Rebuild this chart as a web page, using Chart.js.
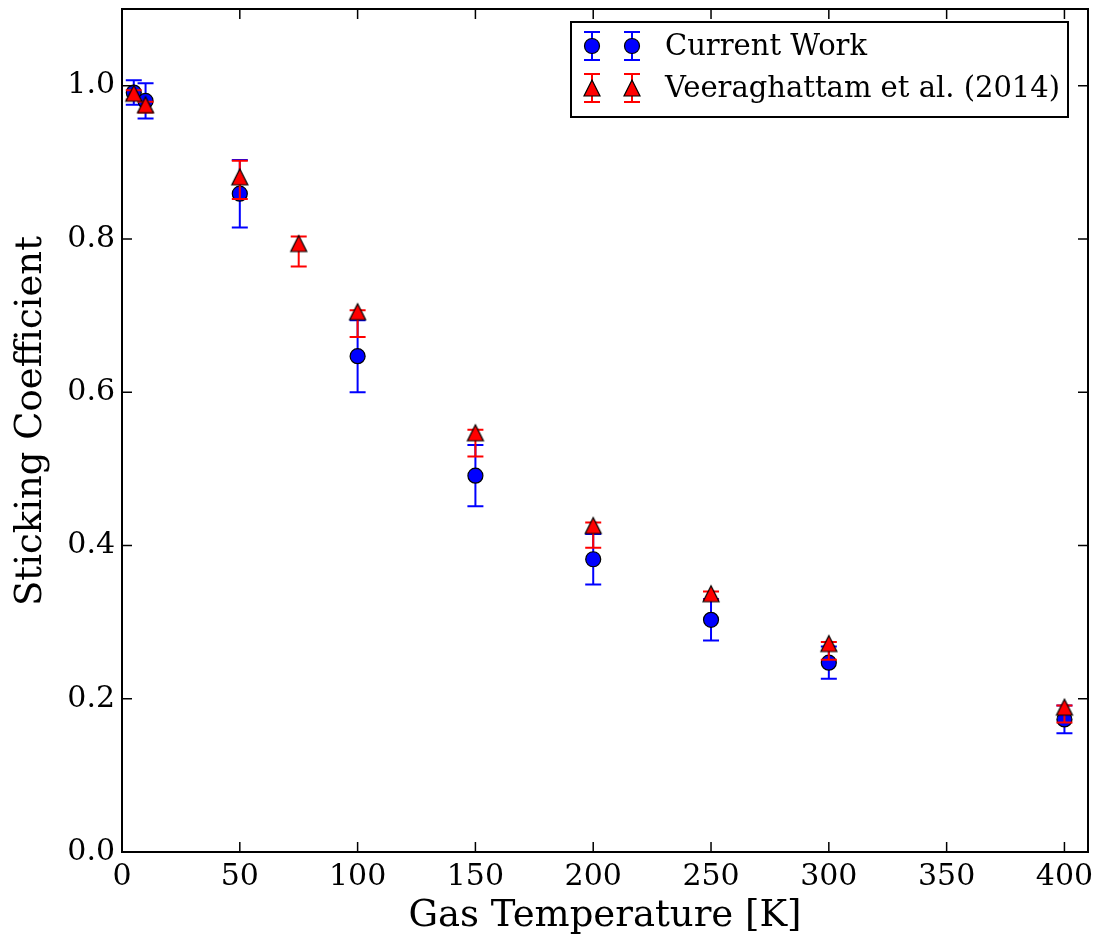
<!DOCTYPE html>
<html>
<head>
<meta charset="utf-8">
<script src="https://cdn.jsdelivr.net/npm/chart.js@4.4.0/dist/chart.umd.min.js"></script>
<style>
  body { margin: 0; background: #fff; }
</style>
</head>
<body>
<canvas id="chart" width="1102" height="943"></canvas>
<script>
// Sticking coefficient vs gas temperature, two data sets with error bars
const currentTemps = [5, 10, 50, 100, 150, 200, 250, 300, 400];
const currentValues = [0.991, 0.980, 0.859, 0.647, 0.491, 0.382, 0.303, 0.247, 0.173];
const currentErrors = [0.016, 0.023, 0.044, 0.047, 0.040, 0.033, 0.027, 0.021, 0.018];

const veeraTemps = [5, 10, 50, 75, 100, 150, 200, 250, 300, 400];
const veeraValues = [0.990, 0.975, 0.881, 0.794, 0.705, 0.547, 0.426, 0.337, 0.272, 0.189];
const veeraErrUp = [0.004, 0.004, 0.021, 0.009, 0.002, 0.004, 0.004, 0.003, 0.002, 0.002];
const veeraErrDown = [0.008, 0.010, 0.029, 0.030, 0.033, 0.031, 0.029, 0.008, 0.021, 0.020];

const xTicks = [0, 50, 100, 150, 200, 250, 300, 350, 400];
const yTicks = [0.0, 0.2, 0.4, 0.6, 0.8, 1.0];

const SERIF = "'DejaVu Serif', serif";
const BLUE = '#0000ff';
const RED = '#ff0000';

// matplotlib-style '^' marker: centred on its bounding box
function makeTriangle(size) {
    const c = document.createElement('canvas');
    c.width = size + 4;
    c.height = size + 4;
    const g = c.getContext('2d');
    g.beginPath();
    g.moveTo(c.width / 2, 2);
    g.lineTo(2, size + 2);
    g.lineTo(size + 2, size + 2);
    g.closePath();
    g.fillStyle = RED;
    g.fill();
    g.lineWidth = 1.2;
    g.strokeStyle = '#000';
    g.stroke();
    return c;
}
const triangle = makeTriangle(16);

function errorBar(ctx, px, top, bottom, color) {
    ctx.strokeStyle = color;
    ctx.lineWidth = 2;
    ctx.beginPath();
    ctx.moveTo(px, top);
    ctx.lineTo(px, bottom);
    ctx.moveTo(px - 8, top);
    ctx.lineTo(px + 8, top);
    ctx.moveTo(px - 8, bottom);
    ctx.lineTo(px + 8, bottom);
    ctx.stroke();
}

const errorBarPlugin = {
    id: 'errorBars',
    beforeDatasetDraw(chart, args) {
        const { ctx, scales: { x, y } } = chart;
        ctx.save();
        if (args.index === 0) {
            currentTemps.forEach((t, i) => {
                errorBar(ctx, x.getPixelForValue(t),
                    y.getPixelForValue(currentValues[i] + currentErrors[i]),
                    y.getPixelForValue(currentValues[i] - currentErrors[i]), BLUE);
            });
        } else {
            veeraTemps.forEach((t, i) => {
                errorBar(ctx, x.getPixelForValue(t),
                    y.getPixelForValue(veeraValues[i] + veeraErrUp[i]),
                    y.getPixelForValue(veeraValues[i] - veeraErrDown[i]), RED);
            });
        }
        ctx.restore();
    }
};

// frame with inward ticks on all four sides, y title and the legend box
const framePlugin = {
    id: 'frame',
    afterDraw(chart) {
        const { ctx, chartArea: a, scales: { x, y } } = chart;
        ctx.save();
        ctx.strokeStyle = '#000';
        ctx.lineWidth = 1.5;
        ctx.beginPath();
        xTicks.forEach(t => {
            const px = x.getPixelForValue(t);
            ctx.moveTo(px, a.bottom); ctx.lineTo(px, a.bottom - 10);
            ctx.moveTo(px, a.top); ctx.lineTo(px, a.top + 10);
        });
        yTicks.forEach(v => {
            const py = y.getPixelForValue(v);
            ctx.moveTo(a.left, py); ctx.lineTo(a.left + 10, py);
            ctx.moveTo(a.right, py); ctx.lineTo(a.right - 10, py);
        });
        ctx.stroke();
        ctx.lineWidth = 2;
        ctx.strokeRect(a.left, a.top, a.right - a.left, a.bottom - a.top);

        // y axis title
        ctx.save();
        ctx.translate(31, 421);
        ctx.rotate(-Math.PI / 2);
        ctx.fillStyle = '#000';
        ctx.font = '37px ' + SERIF;
        ctx.textAlign = 'center';
        ctx.textBaseline = 'middle';
        ctx.fillText('Sticking Coefficient', 0, 0);
        ctx.restore();

        // legend
        const lx = 571, ly = 22, lw = 497, lh = 95;
        ctx.lineWidth = 2;
        ctx.strokeStyle = '#000';
        ctx.fillStyle = '#fff';
        ctx.fillRect(lx, ly, lw, lh);
        ctx.strokeRect(lx, ly, lw, lh);
        const rows = [
            { label: 'Current Work', color: BLUE, cy: 46 },
            { label: 'Veeraghattam et al. (2014)', color: RED, cy: 88 }
        ];
        rows.forEach((r, i) => {
            [592, 632].forEach(mx => {
                errorBar(ctx, mx, r.cy - 14, r.cy + 14, r.color);
                if (i === 0) {
                    ctx.beginPath();
                    ctx.arc(mx, r.cy, 7.5, 0, Math.PI * 2);
                    ctx.fillStyle = BLUE;
                    ctx.fill();
                    ctx.lineWidth = 1.2;
                    ctx.strokeStyle = '#000';
                    ctx.stroke();
                } else {
                    ctx.drawImage(triangle, mx - triangle.width / 2, r.cy - triangle.height / 2);
                }
            });
            ctx.fillStyle = '#000';
            ctx.font = '29px ' + SERIF;
            ctx.textBaseline = 'middle';
            ctx.textAlign = 'left';
            ctx.fillText(r.label, 665, r.cy + 1);
        });
        ctx.restore();
    }
};

new Chart(document.getElementById('chart'), {
    type: 'scatter',
    data: {
        datasets: [
            {
                label: 'Current Work',
                data: currentTemps.map((t, i) => ({ x: t, y: currentValues[i] })),
                pointStyle: 'circle',
                pointRadius: 7.5,
                backgroundColor: BLUE,
                borderColor: '#000',
                borderWidth: 1.2,
                order: 2
            },
            {
                label: 'Veeraghattam et al. (2014)',
                data: veeraTemps.map((t, i) => ({ x: t, y: veeraValues[i] })),
                pointStyle: triangle,
                pointRadius: 8,
                backgroundColor: RED,
                borderColor: '#000',
                order: 1
            }
        ]
    },
    options: {
        responsive: false,
        animation: false,
        events: [],
        layout: { padding: { left: 0, top: 7, right: 14, bottom: 0 } },
        plugins: {
            legend: { display: false },
            tooltip: { enabled: false }
        },
        scales: {
            x: {
                type: 'linear',
                min: 0,
                max: 410,
                afterBuildTicks: s => { s.ticks = xTicks.map(v => ({ value: v })); },
                afterFit: s => { s.height = 91; s.paddingLeft = 0; s.paddingRight = 0; },
                grid: { display: false, drawTicks: false },
                border: { display: false },
                ticks: {
                    color: '#000',
                    padding: 7,
                    font: { family: SERIF, size: 30 },
                    callback: v => String(v)
                },
                title: {
                    display: true,
                    text: 'Gas Temperature [K]',
                    color: '#000',
                    font: { family: SERIF, size: 37 },
                    padding: { top: 0, bottom: 4 }
                }
            },
            y: {
                type: 'linear',
                min: 0,
                max: 1.1,
                afterBuildTicks: s => { s.ticks = yTicks.map(v => ({ value: v })); },
                afterFit: s => { s.width = 122; s.paddingTop = 0; s.paddingBottom = 0; },
                grid: { display: false, drawTicks: false },
                border: { display: false },
                ticks: {
                    color: '#000',
                    padding: 7,
                    font: { family: SERIF, size: 30 },
                    callback: v => Number(v).toFixed(1)
                }
            }
        }
    },
    plugins: [errorBarPlugin, framePlugin]
});
</script>
</body>
</html>
